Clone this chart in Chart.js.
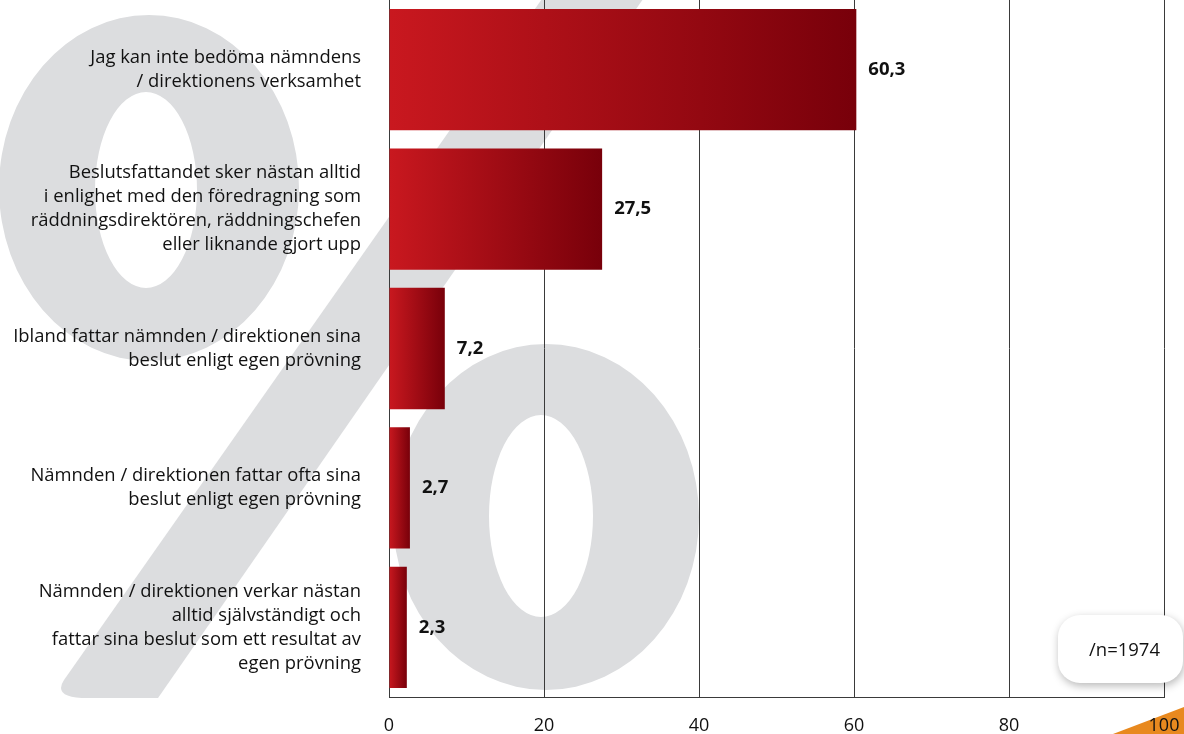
<!DOCTYPE html>
<html lang="sv">
<head>
<meta charset="UTF-8">
<title>Nämndens beslutsfattande</title>
<style>
    body {
        margin: 0;
        padding: 0;
        background-color: #ffffff;
    }

    .chart-box {
        position: relative;
        width: 1184px;
        height: 734px;
    }
</style>
</head>
<body>
<div class="chart-box">
    <canvas id="barChart"></canvas>
</div>

<script src="https://cdn.jsdelivr.net/npm/chart.js"></script>
<script>
    const categories = [
        ['Jag kan inte bedöma nämndens', '/ direktionens verksamhet'],
        ['Beslutsfattandet sker nästan alltid', 'i enlighet med den föredragning som', 'räddningsdirektören, räddningschefen', 'eller liknande gjort upp'],
        ['Ibland fattar nämnden / direktionen sina', 'beslut enligt egen prövning'],
        ['Nämnden / direktionen fattar ofta sina', 'beslut enligt egen prövning'],
        ['Nämnden / direktionen verkar nästan', 'alltid självständigt och', 'fattar sina beslut som ett resultat av', 'egen prövning']
    ];
    const percentValues = [60.3, 27.5, 7.2, 2.7, 2.3];
    const xTicks = [0, 20, 40, 60, 80, 100];
    const sampleNote = '/n=1974';

    const FONT = '"Open Sans", Lato, sans-serif';
    const GREY = '#dcdddf';

    // big grey percent sign + orange corner, behind everything
    const percentBackdrop = {
        id: 'percentBackdrop',
        beforeDraw(chart) {
            const ctx = chart.ctx;
            ctx.save();
            ctx.fillStyle = '#ffffff';
            ctx.fillRect(0, 0, chart.width, chart.height);
            ctx.fillStyle = GREY;

            // upper ring
            ctx.beginPath();
            ctx.ellipse(149, 188, 150, 173, 0, 0, Math.PI * 2);
            ctx.ellipse(146, 190, 51, 98, 0, 0, Math.PI * 2);
            ctx.fill('evenodd');

            // lower ring
            ctx.beginPath();
            ctx.ellipse(546, 517, 153, 173, 0, 0, Math.PI * 2);
            ctx.ellipse(541, 516, 52, 101, 0, 0, Math.PI * 2);
            ctx.fill('evenodd');

            // slash
            ctx.beginPath();
            ctx.moveTo(236 + 0.694 * 460, -20);
            ctx.lineTo(337 + 0.694 * 460, -20);
            ctx.lineTo(158, 698);
            ctx.lineTo(88, 698);
            ctx.quadraticCurveTo(52, 698, 64, 680);
            ctx.closePath();
            ctx.fill();

            // orange corner under the "100" tick label
            ctx.fillStyle = '#e8891f';
            ctx.beginPath();
            ctx.moveTo(1113, 734);
            ctx.lineTo(1184, 707);
            ctx.lineTo(1184, 734);
            ctx.closePath();
            ctx.fill();
            ctx.restore();
        }
    };

    // value labels and note box
    const extras = {
        id: 'extras',
        afterDatasetsDraw(chart) {
            const ctx = chart.ctx;
            const meta = chart.getDatasetMeta(0);
            ctx.save();
            ctx.font = 'bold 18.5px ' + FONT;
            ctx.fillStyle = '#111111';
            ctx.textBaseline = 'middle';
            ctx.textAlign = 'left';
            meta.data.forEach((bar, i) => {
                ctx.fillText(percentValues[i].toFixed(1).replace('.', ','), bar.x + 12, bar.y);
            });
            ctx.restore();
        },
        afterDraw(chart) {
            const ctx = chart.ctx;
            ctx.save();
            ctx.shadowColor = 'rgba(0,0,0,0.28)';
            ctx.shadowBlur = 8;
            ctx.shadowOffsetX = 1;
            ctx.shadowOffsetY = 3;
            ctx.fillStyle = '#ffffff';
            ctx.beginPath();
            ctx.roundRect(1058, 615, 125, 68, 22);
            ctx.fill();
            ctx.shadowColor = 'transparent';
            ctx.fillStyle = '#111111';
            ctx.font = '18.5px ' + FONT;
            ctx.textAlign = 'left';
            ctx.textBaseline = 'middle';
            ctx.fillText(sampleNote, 1089, 651);
            ctx.restore();
        }
    };

    function barGradient(context) {
        const chart = context.chart;
        if (!chart.chartArea || !chart.scales.x) return '#a3101a';
        const xs = chart.scales.x;
        const x0 = xs.getPixelForValue(0);
        const x1 = xs.getPixelForValue(context.raw);
        const g = chart.ctx.createLinearGradient(x0, 0, Math.max(x1, x0 + 1), 0);
        g.addColorStop(0, '#c9181f');
        g.addColorStop(1, '#78000a');
        return g;
    }

    new Chart(document.getElementById('barChart'), {
        type: 'bar',
        data: {
            labels: categories,
            datasets: [{
                data: percentValues,
                backgroundColor: barGradient,
                borderWidth: 0,
                barPercentage: 0.87,
                categoryPercentage: 1
            }]
        },
        options: {
            indexAxis: 'y',
            responsive: true,
            maintainAspectRatio: false,
            animation: false,
            layout: {
                padding: { top: -4, right: 20, bottom: 0, left: 0 }
            },
            plugins: {
                legend: { display: false },
                tooltip: { enabled: false }
            },
            scales: {
                x: {
                    min: 0,
                    max: 100,
                    afterBuildTicks: s => { s.ticks = xTicks.map(v => ({ value: v })); },
                    afterFit: s => {
                        s.height = 37;
                        s.paddingLeft = 0;
                        s.paddingRight = 0;
                    },
                    grid: { color: '#3a3a3a', lineWidth: 1, drawTicks: false },
                    border: { color: '#3a3a3a', width: 1 },
                    ticks: {
                        padding: 18,
                        color: '#111111',
                        font: { family: FONT, size: 18 },
                        maxRotation: 0,
                        autoSkip: false
                    }
                },
                y: {
                    afterFit: s => {
                        s.width = 389;
                        s.paddingTop = 0;
                        s.paddingBottom = 0;
                    },
                    grid: { display: false, drawTicks: false },
                    border: { color: '#3a3a3a', width: 1 },
                    ticks: {
                        padding: 28,
                        color: '#111111',
                        font: { family: FONT, size: 18.4, lineHeight: '24px' }
                    }
                }
            }
        },
        plugins: [percentBackdrop, extras]
    });
</script>
</body>
</html>
